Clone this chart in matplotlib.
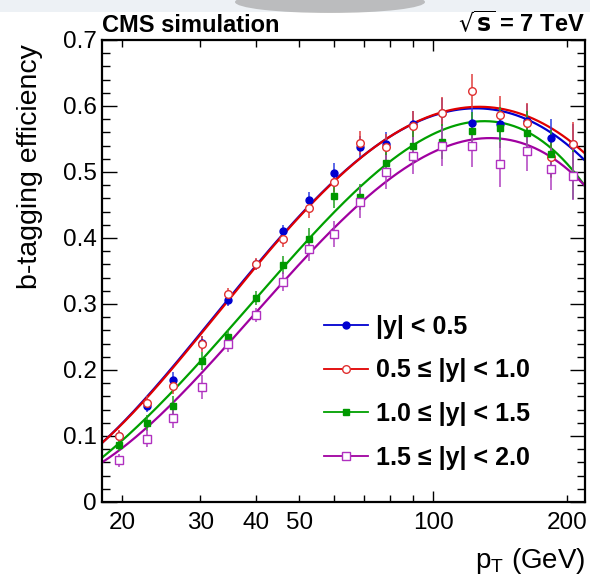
import numpy as np
import matplotlib
matplotlib.use("Agg")
import matplotlib.pyplot as plt
from matplotlib.ticker import FixedLocator, FuncFormatter
from matplotlib.patches import Ellipse, Rectangle

plt.rcParams['font.family'] = ['Liberation Sans', 'DejaVu Sans']

# ---- data ----
pt = [19.7, 22.8, 26.1, 30.2, 34.6, 40.0, 45.9, 52.5, 60.0, 68.6, 78.5, 90.0,
      104.6, 122.1, 141.6, 162.4, 183.8, 206.6]

eff_y05 = [0.100, 0.146, 0.185, 0.241, 0.306, 0.360, 0.410, 0.457, 0.499, 0.538,
           0.542, 0.572, 0.590, 0.575, 0.572, 0.577, 0.552, 0.543]
err_y05 = [0.008, 0.010, 0.012, 0.011, 0.009, 0.008, 0.010, 0.012, 0.014, 0.016,
           0.018, 0.020, 0.022, 0.024, 0.025, 0.026, 0.028, 0.030]

eff_y10 = [0.100, 0.150, 0.176, 0.239, 0.315, 0.360, 0.399, 0.445, 0.485, 0.544,
           0.538, 0.570, 0.589, 0.623, 0.587, 0.575, 0.523, 0.542]
err_y10 = [0.009, 0.011, 0.013, 0.012, 0.010, 0.009, 0.012, 0.014, 0.016, 0.018,
           0.020, 0.022, 0.024, 0.026, 0.028, 0.030, 0.032, 0.034]

eff_y15 = [0.087, 0.120, 0.145, 0.214, 0.250, 0.309, 0.359, 0.399, 0.463, 0.462,
           0.514, 0.539, 0.546, 0.562, 0.567, 0.559, 0.528, 0.496]
err_y15 = [0.010, 0.012, 0.015, 0.014, 0.011, 0.010, 0.013, 0.016, 0.018, 0.020,
           0.022, 0.025, 0.027, 0.029, 0.031, 0.033, 0.035, 0.037]

eff_y20 = [0.063, 0.096, 0.128, 0.174, 0.240, 0.283, 0.334, 0.383, 0.406, 0.454,
           0.500, 0.525, 0.539, 0.540, 0.512, 0.532, 0.504, 0.494]
err_y20 = [0.010, 0.013, 0.016, 0.018, 0.012, 0.011, 0.014, 0.018, 0.020, 0.023,
           0.026, 0.028, 0.030, 0.032, 0.034, 0.030, 0.032, 0.036]

# fitted curves (pT, efficiency)
fit_pt = [18.0, 30.0, 40.0, 60.0, 78.5, 90.0, 125.0, 162.0, 184.0, 220.0]
fit_y05 = [0.089, 0.256, 0.357, 0.488, 0.550, 0.572, 0.5965, 0.581, 0.559, 0.517]
fit_y10 = [0.089, 0.254, 0.356, 0.487, 0.550, 0.572, 0.600, 0.585, 0.566, 0.528]
fit_y15 = [0.0667, 0.213, 0.309, 0.437, 0.516, 0.538, 0.575, 0.564, 0.535, 0.478]
fit_y20 = [0.0596, 0.194, 0.286, 0.417, 0.485, 0.513, 0.550, 0.541, 0.524, 0.478]

labels = [r'|y| < 0.5', r'0.5 ≤ |y| < 1.0', r'1.0 ≤ |y| < 1.5', r'1.5 ≤ |y| < 2.0']
x_tick_labels = [20, 30, 40, 50, 100, 200]
y_ticks = [0, 0.1, 0.2, 0.3, 0.4, 0.5, 0.6, 0.7]
y_tick_labels = ['0', '0.1', '0.2', '0.3', '0.4', '0.5', '0.6', '0.7']

series = [
    (eff_y05, err_y05, fit_y05, dict(color='#0000d0', ecolor='#3040e0', marker='o', ms=5, mfc='#0000d0', mec='#0000d0')),
    (eff_y10, err_y10, fit_y10, dict(color='#e00000', ecolor='#e04040', marker='o', ms=5.5, mfc='white', mec='#e03030')),
    (eff_y15, err_y15, fit_y15, dict(color='#00a000', ecolor='#20a020', marker='s', ms=4.5, mfc='#009900', mec='#009900')),
    (eff_y20, err_y20, fit_y20, dict(color='#a000a0', ecolor='#b040c0', marker='s', ms=5.5, mfc='white', mec='#b030c0')),
]

W, H = 590, 581
fig = plt.figure(figsize=(W / 100, H / 100), dpi=100)
# page background artifacts
fig.patches.append(Rectangle((0, 1 - 12 / H), 1, 12 / H, transform=fig.transFigure,
                             facecolor='#edf1f5', edgecolor='none', zorder=0))
fig.patches.append(Ellipse((330 / W, 1 - 2 / H), 190 / W, 22 / H, transform=fig.transFigure,
                           facecolor='#9a9a9a', edgecolor='none', alpha=0.6, zorder=0))

ax = fig.add_axes([102 / W, 1 - 502 / H, (585 - 102) / W, (502 - 40) / H])
ax.set_xscale('log')
ax.set_xlim(18.03, 219.6)
ax.set_ylim(0, 0.7)

xs = np.geomspace(18.03, 219.6, 300)
handles = []
for eff, err, fit, st in series:
    coef = np.polyfit(np.log10(fit_pt), fit, 4)
    ax.plot(xs, np.polyval(coef, np.log10(xs)), color=st['color'], lw=1.6, zorder=2)
    ax.errorbar(pt, eff, yerr=err, fmt='none', ecolor=st['ecolor'], elinewidth=1.1, capsize=0, zorder=3)
    ax.plot(pt, eff, ls='none', marker=st['marker'], ms=st['ms'], mfc=st['mfc'], mec=st['mec'],
            mew=1.0, zorder=4)
    h, = ax.plot([], [], color=st['color'], lw=1.3, marker=st['marker'], ms=st['ms'],
                 mfc=st['mfc'], mec=st['mec'], mew=1.0)
    handles.append(h)

leg = ax.legend(handles, labels, loc='upper left', bbox_to_anchor=(222 / 483, (502 - 315) / 462),
                frameon=False, handlelength=1.75, handletextpad=0.35, labelspacing=0.78,
                prop=dict(size=18, weight='bold'), borderaxespad=0, borderpad=0)

ax.xaxis.set_major_locator(FixedLocator([100]))
ax.xaxis.set_minor_locator(FixedLocator([20, 30, 40, 50, 60, 70, 80, 90, 200]))
fmt = FuncFormatter(lambda v, p: f'{int(round(v))}' if int(round(v)) in x_tick_labels else '')
ax.xaxis.set_major_formatter(fmt)
ax.xaxis.set_minor_formatter(fmt)
ax.set_yticks(y_ticks)
ax.set_yticklabels(y_tick_labels)
ax.yaxis.set_minor_locator(FixedLocator(np.arange(0, 0.701, 0.02)))

ax.tick_params(axis='both', which='both', direction='in', top=True, right=True, labelsize=17.5,
               width=1.0, colors='black')
ax.tick_params(axis='x', which='major', length=8, pad=7)
ax.tick_params(axis='x', which='minor', length=5, pad=7)
ax.tick_params(axis='y', which='major', length=11, pad=4)
ax.tick_params(axis='y', which='minor', length=6)
for s in ax.spines.values():
    s.set_linewidth(1.6)

fig.text(30 / W, 1 - 44 / H, 'b-tagging efficiency', rotation=90, ha='center', va='top', fontsize=20.5)
fig.text(585 / W, 1 - 576 / H, r'p$_\mathregular{T}$ (GeV)', ha='right', va='bottom', fontsize=20)
fig.text(102 / W, 1 - 32 / H, 'CMS simulation', ha='left', va='baseline', fontsize=17, weight='bold')
fig.text(585 / W, 1 - 32 / H, r'$\sqrt{\mathbf{s}}$ = 7 TeV', ha='right', va='baseline', fontsize=17, weight='bold')

fig.savefig('out.png', dpi=100, facecolor='white')
